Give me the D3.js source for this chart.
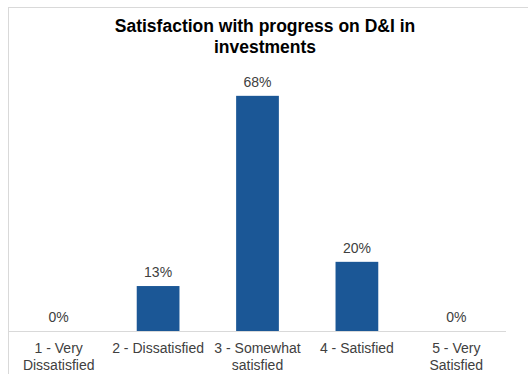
<!DOCTYPE html>
<html>
<head>
<meta charset="utf-8">
<script src="https://cdn.jsdelivr.net/npm/d3@7"></script>
<style>
  html, body { margin: 0; padding: 0; background: #fff; }
  svg { display: block; font-family: "Liberation Sans", Arial, sans-serif; }
</style>
</head>
<body>
<svg id="chart" width="528" height="374"></svg>
<script>
// Survey responses
const categories = [
  ["1 - Very", "Dissatisfied"],
  ["2 - Dissatisfied"],
  ["3 - Somewhat", "satisfied"],
  ["4 - Satisfied"],
  ["5 - Very", "Satisfied"]
];
const shares = [0, 0.13, 0.68, 0.20, 0];
const titleLines = ["Satisfaction with progress on D&I in", "investments"];

const svg = d3.select("#chart");

// Outer frame of the chart area
svg.append("rect")
  .attr("x", 8.5).attr("y", 7.5)
  .attr("width", 540).attr("height", 400)
  .attr("fill", "#fff")
  .attr("stroke", "#d9d9d9")
  .attr("stroke-width", 1);

const plot = { left: 9, right: 506, top: 82, bottom: 331 };

const x = d3.scaleBand()
  .domain(d3.range(categories.length))
  .range([plot.left, plot.right])
  .paddingInner(0.57)
  .paddingOuter(0.285);

const y = d3.scaleLinear()
  .domain([0, 0.72])
  .range([plot.bottom, plot.top]);

// Title
svg.append("text")
  .attr("x", 265).attr("y", 32)
  .attr("text-anchor", "middle")
  .attr("font-size", 17.5)
  .attr("font-weight", "bold")
  .attr("fill", "#000")
  .selectAll("tspan")
  .data(titleLines)
  .join("tspan")
  .attr("x", 265)
  .attr("dy", (d, i) => i === 0 ? 0 : 21)
  .text(d => d);

// Bars
svg.append("g")
  .selectAll("rect")
  .data(shares)
  .join("rect")
  .attr("x", (d, i) => x(i))
  .attr("width", x.bandwidth())
  .attr("y", d => y(d))
  .attr("height", d => y(0) - y(d))
  .attr("fill", "#1b5796");

// Value labels
svg.append("g")
  .selectAll("text")
  .data(shares)
  .join("text")
  .attr("x", (d, i) => x(i) + x.bandwidth() / 2)
  .attr("y", d => y(d) - 9)
  .attr("text-anchor", "middle")
  .attr("font-size", 14)
  .attr("fill", "#404040")
  .text(d => d3.format(".0%")(d));

// Category axis
const axis = svg.append("g")
  .attr("transform", `translate(0,${plot.bottom})`)
  .call(d3.axisBottom(x).tickSize(0).tickFormat(""));
axis.select(".domain")
  .attr("stroke", "#d9d9d9")
  .attr("d", `M${plot.left},0.5H${plot.right}`);

axis.selectAll(".tick").each(function(d) {
  const t = d3.select(this).append("text")
    .attr("text-anchor", "middle")
    .attr("font-size", 14)
    .attr("fill", "#404040")
    .attr("y", 22);
  t.selectAll("tspan")
    .data(categories[d])
    .join("tspan")
    .attr("x", 0)
    .attr("dy", (s, i) => i === 0 ? 0 : 17)
    .text(s => s);
});
</script>
</body>
</html>
